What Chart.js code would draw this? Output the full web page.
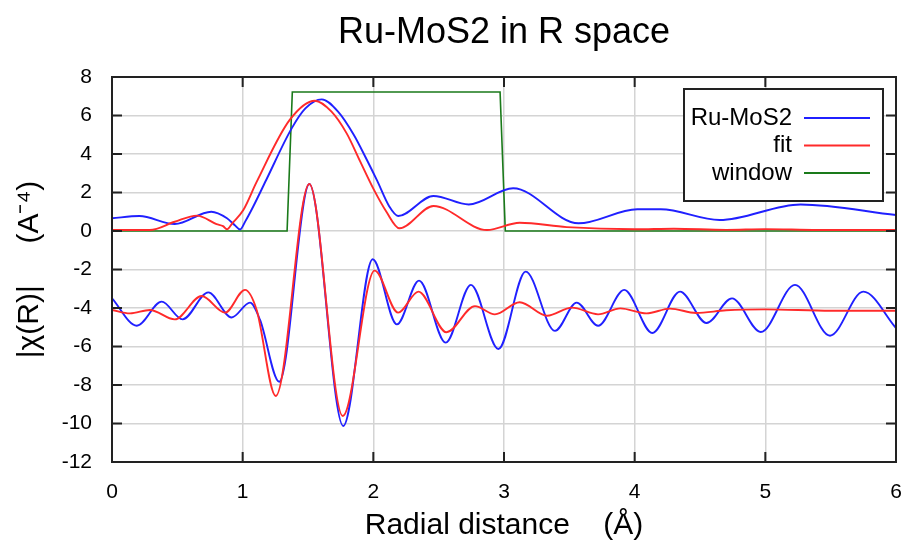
<!DOCTYPE html>
<html>
<head>
<meta charset="utf-8">
<title>Ru-MoS2 in R space</title>
<script src="https://cdn.jsdelivr.net/npm/chart.js@4.4.1/dist/chart.umd.min.js"></script>
<style>
  body { margin: 0; background: #fff; }
  #wrap { width: 908px; height: 548px; }
</style>
</head>
<body>
<div id="wrap"><canvas id="grafico" width="908" height="548"></canvas></div>
<script>
/* ============================
   DADOS
============================ */

// |chi(R)| do dado e do ajuste
const muMagR = [0, 0.21, 0.48, 0.76, 0.88, 0.94, 0.98, 1.02, 1.08, 1.18, 1.375, 1.48, 1.605, 1.73, 1.85, 1.95, 2.03, 2.12, 2.19, 2.46, 2.73, 3.07, 3.57, 4.02, 4.2, 4.65, 5.27, 6.0];
const muMagY = [0.66, 0.78, 0.36, 1.0, 0.66, 0.3, 0.08, 0.5, 1.26, 2.65, 5.33, 6.37, 6.84, 6.2, 5.0, 3.7, 2.6, 1.3, 0.78, 1.82, 1.38, 2.22, 0.4, 1.13, 1.13, 0.57, 1.38, 0.83];

const fitMagR = [0, 0.29, 0.48, 0.65, 0.8, 0.85, 0.88, 0.92, 1.005, 1.107, 1.36, 1.553, 1.68, 1.796, 1.9, 2.0, 2.1, 2.2, 2.46, 2.87, 3.12, 3.48, 4.0, 4.3, 4.7, 5.0, 5.4, 6.0];
const fitMagY = [0.05, 0.05, 0.48, 0.8, 0.36, 0.25, 0.09, 0.4, 1.09, 2.55, 5.77, 6.77, 6.2, 5.07, 3.6, 2.2, 1.0, 0.14, 1.3, 0.05, 0.43, 0.2, 0.09, 0.12, 0.06, 0.1, 0.05, 0.05];

// janela
const winR = [0, 1.34, 1.38, 2.97, 3.01, 6.0];
const winY = [0, 0, 7.22, 7.22, 0, 0];

// parte real (deslocada para -4)
const muReR = [0, 0.19, 0.38, 0.54, 0.737, 0.916, 1.056, 1.133, 1.28, 1.51, 1.77, 1.995, 2.18, 2.35, 2.554, 2.747, 2.957, 3.166, 3.39, 3.556, 3.72, 3.92, 4.135, 4.347, 4.55, 4.745, 4.965, 5.227, 5.495, 5.75, 6.0];
const muReY = [-3.5, -4.92, -3.67, -4.59, -3.19, -4.49, -3.72, -4.62, -7.83, 2.44, -10.13, -1.47, -4.85, -2.58, -5.8, -2.8, -6.13, -2.11, -5.19, -3.72, -4.92, -3.06, -5.3, -3.15, -4.78, -3.5, -5.25, -2.8, -5.44, -3.15, -5.04];

const fitReR = [0, 0.138, 0.29, 0.48, 0.686, 0.865, 1.018, 1.107, 1.253, 1.51, 1.766, 2.01, 2.19, 2.345, 2.56, 2.778, 2.93, 3.12, 3.33, 3.52, 3.72, 3.89, 4.09, 4.27, 4.47, 4.7, 5.0, 5.5, 6.0];
const fitReY = [-4.1, -4.28, -4.1, -4.59, -3.38, -4.24, -3.06, -4.1, -8.57, 2.44, -9.61, -2.06, -4.24, -3.15, -5.26, -3.9, -4.33, -3.7, -4.4, -3.98, -4.33, -4.02, -4.28, -4.03, -4.26, -4.12, -4.07, -4.14, -4.14];

const xTicks = [0, 1, 2, 3, 4, 5, 6];
const yTicks = [-12, -10, -8, -6, -4, -2, 0, 2, 4, 6, 8];

const fonte = "'Liberation Sans', Arial, sans-serif";

function pontos(xs, ys) {
    return xs.map((x, i) => ({ x, y: ys[i] }));
}

/* ============================
   MOLDURA, TICKS INTERNOS E LEGENDA
============================ */

const moldura = {
    id: "moldura",
    afterDraw(chart) {
        const { ctx, chartArea: a, scales } = chart;
        ctx.save();
        ctx.strokeStyle = "#222";
        ctx.lineWidth = 2;
        ctx.beginPath();
        scales.x.ticks.forEach(t => {
            const px = scales.x.getPixelForValue(t.value);
            ctx.moveTo(px, a.top); ctx.lineTo(px, a.top + 10);
            ctx.moveTo(px, a.bottom); ctx.lineTo(px, a.bottom - 10);
        });
        scales.y.ticks.forEach(t => {
            const py = scales.y.getPixelForValue(t.value);
            ctx.moveTo(a.left, py); ctx.lineTo(a.left + 10, py);
            ctx.moveTo(a.right, py); ctx.lineTo(a.right - 10, py);
        });
        ctx.stroke();
        ctx.strokeRect(a.left, a.top, a.right - a.left, a.bottom - a.top);

        // legenda
        const bx = 684, by = 89, bw = 199, bh = 112;
        ctx.fillStyle = "#fff";
        ctx.fillRect(bx, by, bw, bh);
        ctx.strokeRect(bx, by, bw, bh);
        ctx.font = "24px " + fonte;
        ctx.textAlign = "right";
        ctx.textBaseline = "middle";
        const itens = chart.data.datasets.filter(d => d.label);
        itens.forEach((d, i) => {
            const ly = 118 + i * 27.5;
            ctx.fillStyle = "#000";
            ctx.fillText(d.label, 792, ly);
            ctx.strokeStyle = d.borderColor;
            ctx.lineWidth = 1.8;
            ctx.beginPath();
            ctx.moveTo(804, ly); ctx.lineTo(870, ly);
            ctx.stroke();
        });
        ctx.restore();
    }
};

/* ============================
   GRÁFICO
============================ */

function serie(label, xs, ys, cor, ordem, extra) {
    return Object.assign({
        label,
        data: pontos(xs, ys),
        borderColor: cor,
        borderWidth: 1.9,
        pointRadius: 0,
        fill: false,
        cubicInterpolationMode: "monotone",
        order: ordem
    }, extra || {});
}

const ctx = document.getElementById("grafico").getContext("2d");

new Chart(ctx, {
    type: "line",
    data: {
        datasets: [
            serie("Ru-MoS2", muMagR, muMagY, "#2020ff", 1),
            serie("fit", fitMagR, fitMagY, "#ff2a2a", 0),
            serie("window", winR, winY, "#1a7a1a", 2, { cubicInterpolationMode: "default", tension: 0, borderWidth: 1.6 }),
            serie("", muReR, muReY, "#2020ff", 1),
            serie("", fitReR, fitReY, "#ff2a2a", 0)
        ]
    },
    options: {
        responsive: false,
        animation: false,
        layout: { padding: { left: 0, right: 12, top: 0, bottom: 0 } },
        plugins: {
            legend: { display: false },
            tooltip: { enabled: false },
            title: {
                display: true,
                fullSize: false,
                text: "Ru-MoS2 in R space",
                color: "#000",
                font: { family: fonte, size: 36, weight: "normal" },
                padding: { top: 11.4, bottom: 22.4 }
            }
        },
        scales: {
            x: {
                type: "linear",
                min: 0,
                max: 6,
                afterBuildTicks: s => { s.ticks = xTicks.map(v => ({ value: v })); },
                afterFit: s => { s.height = 86; s.paddingLeft = 0; s.paddingRight = 0; },
                grid: { color: "#d4d4d4", lineWidth: 1.5, drawTicks: false },
                border: { display: false },
                ticks: { color: "#000", padding: 18, font: { family: fonte, size: 21 } },
                title: {
                    display: true,
                    text: "Radial distance    (Å)",
                    color: "#000",
                    font: { family: fonte, size: 30 },
                    padding: { top: 0, bottom: 4 }
                }
            },
            y: {
                type: "linear",
                min: -12,
                max: 8,
                afterBuildTicks: s => { s.ticks = yTicks.map(v => ({ value: v })); },
                afterFit: s => { s.width = 112; },
                grid: { color: "#d4d4d4", lineWidth: 1.5, drawTicks: false },
                border: { display: false },
                ticks: { color: "#000", padding: 20, font: { family: fonte, size: 21 } },
                title: {
                    display: true,
                    text: "|χ(R)|     (A⁻⁴)",
                    color: "#000",
                    font: { family: fonte, size: 30 },
                    padding: { top: 12, bottom: 0 }
                }
            }
        }
    },
    plugins: [moldura]
});
</script>
</body>
</html>
